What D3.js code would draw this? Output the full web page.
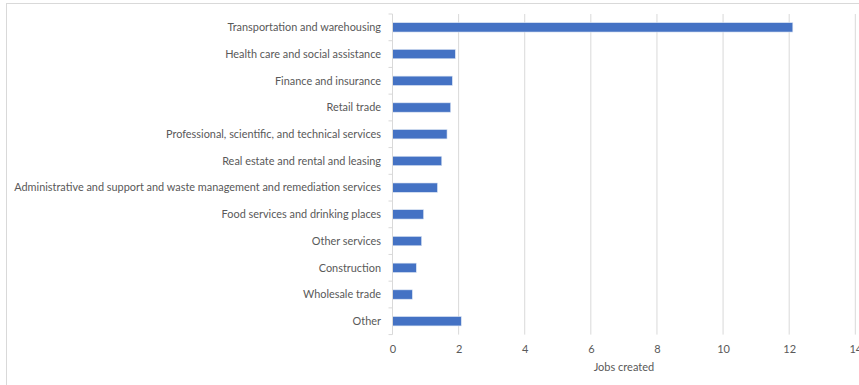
<!DOCTYPE html>
<html>
<head>
<meta charset="utf-8">
<script src="https://cdn.jsdelivr.net/npm/d3@7/dist/d3.min.js"></script>
<style>
  html, body { margin: 0; padding: 0; background: #fff; }
  svg { display: block; }
  text { font-family: Lato, "Open Sans", sans-serif; fill: #595959; }
</style>
</head>
<body>
<svg id="chart" width="859" height="385"></svg>
<script>
// Jobs created by industry
const industries = [
  "Transportation and warehousing",
  "Health care and social assistance",
  "Finance and insurance",
  "Retail trade",
  "Professional, scientific, and technical services",
  "Real estate and rental and leasing",
  "Administrative and support and waste management and remediation services",
  "Food services and drinking places",
  "Other services",
  "Construction",
  "Wholesale trade",
  "Other"
];
const jobsCreated = [12.11, 1.90, 1.81, 1.76, 1.65, 1.49, 1.36, 0.94, 0.88, 0.72, 0.60, 2.08];
const xTicks = [0, 2, 4, 6, 8, 10, 12, 14];
const xTitle = "Jobs created";

const svg = d3.select("#chart");
const plot = { left: 392.5, right: 855.3, top: 14, bottom: 334.6 };

// outer frame of the chart area
svg.append("rect")
  .attr("x", 6.5).attr("y", 3.5)
  .attr("width", 870).attr("height", 400)
  .attr("fill", "none").attr("stroke", "#d9d9d9");

const x = d3.scaleLinear().domain([0, 14]).range([plot.left, plot.right]);
const y = d3.scaleBand().domain(industries).range([plot.top, plot.bottom])
  .paddingInner(0.65).paddingOuter(0.325);

// vertical gridlines
svg.append("g")
  .selectAll("line")
  .data(xTicks.filter(d => d > 0))
  .join("line")
  .attr("x1", d => x(d)).attr("x2", d => x(d))
  .attr("y1", plot.top).attr("y2", plot.bottom)
  .attr("stroke", "#d9d9d9").attr("stroke-width", 1);

// bars
svg.append("g")
  .selectAll("rect")
  .data(industries)
  .join("rect")
  .attr("x", x(0))
  .attr("y", d => y(d))
  .attr("width", (d, i) => x(jobsCreated[i]) - x(0))
  .attr("height", y.bandwidth())
  .attr("fill", "#4472c4")
  .attr("stroke", "#dbe4f3").attr("stroke-width", 0.6);

// category axis with ticks between categories
const yAxis = svg.append("g");
yAxis.append("line")
  .attr("x1", plot.left).attr("x2", plot.left)
  .attr("y1", plot.top).attr("y2", plot.bottom)
  .attr("stroke", "#d9d9d9");
const step = (plot.bottom - plot.top) / industries.length;
yAxis.selectAll("line.tick")
  .data(d3.range(industries.length + 1))
  .join("line")
  .attr("class", "tick")
  .attr("x1", plot.left - 4).attr("x2", plot.left)
  .attr("y1", i => plot.top + i * step).attr("y2", i => plot.top + i * step)
  .attr("stroke", "#d9d9d9");
yAxis.selectAll("text")
  .data(industries)
  .join("text")
  .attr("x", 381)
  .attr("y", d => y(d) + y.bandwidth() / 2)
  .attr("dy", "0.35em")
  .attr("text-anchor", "end")
  .attr("font-size", 10.9)
  .text(d => d);

// value axis
const xAxis = d3.axisBottom(x).tickValues(xTicks).tickSize(0).tickPadding(11);
const gx = svg.append("g").attr("transform", `translate(0,${plot.bottom})`).call(xAxis);
gx.select(".domain").remove();
gx.selectAll("text").attr("font-size", 11).attr("fill", "#595959")
  .style("font-family", "Lato, 'Open Sans', sans-serif");

svg.append("text")
  .attr("x", (plot.left + plot.right) / 2).attr("y", 371)
  .attr("text-anchor", "middle")
  .attr("font-size", 11)
  .text(xTitle);
</script>
</body>
</html>
